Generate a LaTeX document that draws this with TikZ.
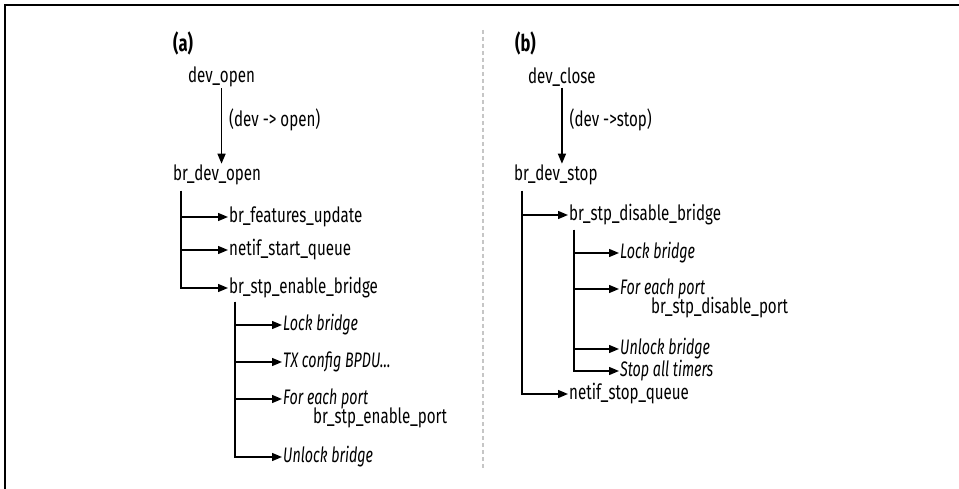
\documentclass[tikz,border=0pt]{standalone}
\usepackage{fontspec}
\setmainfont{Fira Sans}[FakeStretch=0.72,ItalicFeatures={FakeStretch=0.68}]
\usetikzlibrary{arrows.meta,positioning}
\tikzset{
  fn/.style={anchor=west,inner sep=1pt,font=\fontsize{21}{24}\selectfont},
  act/.style={fn,font=\fontsize{21}{24}\selectfont\itshape},
  panel/.style={fn,font=\fontsize{23}{28}\selectfont\bfseries},
  call/.style={-{Triangle[length=10pt,width=8pt]},line width=1.4pt},
}

\begin{document}
\begin{tikzpicture}[x=1pt,y=-1pt]
\useasboundingbox (0,0) rectangle (959,489);
\draw[line width=1.8pt] (5,489) -- (5,5) -- (959,5);
\draw[gray!45,line width=1.8pt,dash pattern=on 4pt off 3pt] (483,30) -- (483,470);
% (a) open
\node[panel] (labA) at (172,43) {(a)};
\node[fn] (open) at (187,77) {dev\_open};
\node[fn] (bropen) at (172,175) {br\_dev\_open};
\draw[call] (open) -- (open |- bropen.north)
  node[fn,pos=0.42,right=6pt] (opnote) {(dev -> open)};
\coordinate (tA) at (181,191);
\node[fn] (feat) at (228,217) {br\_features\_update};
\node[fn] (startq) at (228,250) {netif\_start\_queue};
\node[fn] (enbr) at (228,288) {br\_stp\_enable\_bridge};
\draw[call] (tA) |- (feat.west);
\draw[call] (tA) |- (startq.west);
\draw[call] (tA) |- (enbr.west);
\coordinate (tB) at (235,302);
\node[act] (lockA) at (282,325) {Lock bridge};
\node[act] (txA) at (282,362) {TX config BPDU...};
\node[act] (portA) at (282,399) {For each port};
\node[fn] (enport) at (312,418) {br\_stp\_enable\_port};
\node[act] (unlockA) at (282,457) {Unlock bridge};
\draw[call] (tB) |- (lockA.west);
\draw[call] (tB) |- (txA.west);
\draw[call] (tB) |- (portA.west);
\draw[call] (tB) |- (unlockA.west);
% (b) close
\node[panel] (labB) at (514,43) {(b)};
\node[fn] (close) at (527,77) {dev\_close};
\node[fn] (brstop) at (513,175) {br\_dev\_stop};
\draw[call] (close) -- (close |- brstop.north)
  node[fn,pos=0.42,right=6pt] (stnote) {(dev ->stop)};
\coordinate (tC) at (522,191);
\node[fn] (disbr) at (568,215) {br\_stp\_disable\_bridge};
\node[fn] (stopq) at (568,394) {netif\_stop\_queue};
\draw[call] (tC) |- (disbr.west);
\draw[call] (tC) |- (stopq.west);
\coordinate (tD) at (574,230);
\node[act] (lockB) at (619,253) {Lock bridge};
\node[act] (portB) at (619,289) {For each port};
\node[fn] (disport) at (650,308) {br\_stp\_disable\_port};
\node[act] (unlockB) at (619,349) {Unlock bridge};
\node[act] (timers) at (619,371) {Stop all timers};
\draw[call] (tD) |- (lockB.west);
\draw[call] (tD) |- (portB.west);
\draw[call] (tD) |- (unlockB.west);
\draw[call] (tD) |- (timers.west);
\end{tikzpicture}
\end{document}
